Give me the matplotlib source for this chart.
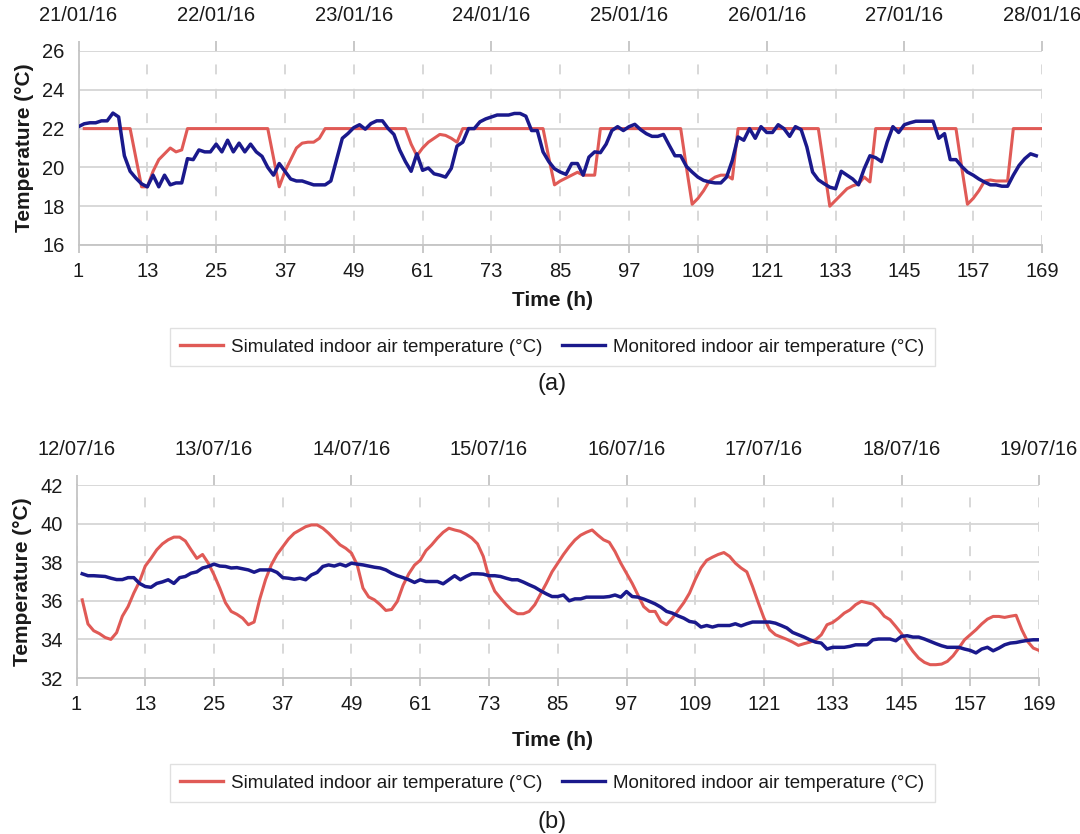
import numpy as np
import matplotlib
matplotlib.use("Agg")
import matplotlib.pyplot as plt
from matplotlib.lines import Line2D

plt.rcParams["font.family"] = ["Liberation Sans", "DejaVu Sans"]

# ---------------------------------------------------------------- data
# (a) winter week, 21/01/16 - 28/01/16
winter_dates = ["21/01/16", "22/01/16", "23/01/16", "24/01/16",
                "25/01/16", "26/01/16", "27/01/16", "28/01/16"]
winter_sim_start = 2
winter_sim = [
    22, 22, 22, 22, 22, 22, 22, 22, 22,
    20.5, 19, 19, 19.8, 20.4, 20.7, 21.0, 20.8, 20.9,
    22, 22, 22, 22, 22, 22, 22, 22, 22, 22, 22, 22, 22, 22, 22,
    20.5, 19, 19.8, 20.4, 21.0, 21.25, 21.3, 21.3, 21.5,
    22, 22, 22, 22, 22, 22, 22, 22, 22, 22, 22, 22, 22, 22, 22,
    21.2, 20.6, 21.0, 21.3, 21.5, 21.7, 21.65, 21.5, 21.3,
    22, 22, 22, 22, 22, 22, 22, 22, 22, 22, 22, 22, 22, 22, 22,
    20.5, 19.1, 19.3, 19.45, 19.6, 19.75, 19.6, 19.6, 19.6,
    22, 22, 22, 22, 22, 22, 22, 22, 22, 22, 22, 22, 22, 22, 22,
    20.0, 18.1, 18.4, 18.8, 19.3, 19.5, 19.6, 19.6, 19.4,
    22, 22, 22, 22, 22, 22, 22, 22, 22, 22, 22, 22, 22, 22, 22,
    20.0, 18.0, 18.3, 18.6, 18.9, 19.05, 19.15, 19.5, 19.25,
    22, 22, 22, 22, 22, 22, 22, 22, 22, 22, 22, 22, 22, 22, 22,
    20.0, 18.1, 18.4, 18.8, 19.3, 19.35, 19.3, 19.3, 19.3,
    22, 22, 22, 22, 22, 22,
]
winter_mon_start = 1
winter_mon = [
    22.1, 22.25, 22.3, 22.3, 22.4, 22.4, 22.8, 22.6, 20.6, 19.8,
    19.45, 19.15, 19.0, 19.6, 19.0, 19.6, 19.1, 19.2, 19.2, 20.45,
    20.4, 20.9, 20.8, 20.8, 21.2, 20.8, 21.4, 20.8, 21.25, 20.8,
    21.2, 20.8, 20.57, 20.0, 19.6, 20.2, 19.8, 19.4, 19.3, 19.3,
    19.2, 19.1, 19.1, 19.1, 19.3, 20.4, 21.5, 21.75, 22.05, 22.2,
    21.97, 22.26, 22.4, 22.4, 22.0, 21.7, 20.9, 20.3, 19.8, 20.7,
    19.85, 19.97, 19.67, 19.6, 19.5, 19.95, 21.1, 21.3, 22.0, 22.0,
    22.35, 22.5, 22.6, 22.7, 22.7, 22.7, 22.78, 22.78, 22.64, 21.9,
    21.9, 20.8, 20.3, 19.93, 19.76, 19.64, 20.2, 20.2, 19.6, 20.53,
    20.8, 20.76, 21.2, 21.9, 22.1, 21.9, 22.1, 22.22, 21.95, 21.74,
    21.6, 21.6, 21.7, 21.14, 20.6, 20.6, 20.05, 19.76, 19.5, 19.33,
    19.25, 19.2, 19.2, 19.5, 20.36, 21.57, 21.4, 22.0, 21.5, 22.1,
    21.8, 21.8, 22.2, 22.0, 21.6, 22.1, 21.95, 21.05, 19.76, 19.36,
    19.16, 18.98, 18.9, 19.8, 19.6, 19.4, 19.1, 19.93, 20.6, 20.5,
    20.3, 21.3, 22.1, 21.8, 22.2, 22.3, 22.38, 22.38, 22.38, 22.38,
    21.5, 21.74, 20.4, 20.4, 20.05, 19.76, 19.6, 19.4, 19.24, 19.1,
    19.1, 19.03, 19.03, 19.6, 20.1, 20.45, 20.7, 20.6,
]

# (b) summer week, 12/07/16 - 19/07/16
summer_dates = ["12/07/16", "13/07/16", "14/07/16", "15/07/16",
                "16/07/16", "17/07/16", "18/07/16", "19/07/16"]
summer_sim_start = 2
summer_sim = [
    36.05, 34.8, 34.45, 34.3, 34.1, 34.0, 34.35, 35.2, 35.7, 36.4,
    37.0, 37.8, 38.2, 38.64, 38.95, 39.16, 39.3, 39.3, 39.1, 38.64,
    38.2, 38.4, 37.95, 37.35, 36.66, 35.9, 35.45, 35.3, 35.1, 34.76,
    34.9, 36.1, 37.1, 37.86, 38.4, 38.8, 39.2, 39.5, 39.67, 39.84,
    39.93, 39.93, 39.76, 39.5, 39.2, 38.9, 38.72, 38.47, 37.86, 36.66,
    36.2, 36.05, 35.8, 35.5, 35.55, 35.97, 36.8, 37.4, 37.85, 38.1,
    38.6, 38.9, 39.25, 39.55, 39.76, 39.67, 39.6, 39.45, 39.25, 38.95,
    38.3, 37.2, 36.5, 36.14, 35.8, 35.5, 35.33, 35.33, 35.45, 35.8,
    36.35, 36.9, 37.5, 37.95, 38.4, 38.8, 39.15, 39.4, 39.55, 39.67,
    39.4, 39.16, 39.03, 38.55, 37.95, 37.43, 36.9, 36.3, 35.7, 35.45,
    35.45, 34.93, 34.76, 35.1, 35.5, 35.9, 36.4, 37.1, 37.7, 38.1,
    38.26, 38.4, 38.5, 38.3, 37.95, 37.7, 37.5, 36.74, 35.9, 35.1,
    34.5, 34.24, 34.12, 34.0, 33.86, 33.69, 33.78, 33.86, 33.98, 34.24,
    34.76, 34.88, 35.1, 35.36, 35.53, 35.8, 35.97, 35.9, 35.83, 35.57,
    35.2, 35.02, 34.67, 34.3, 33.8, 33.38, 33.03, 32.81, 32.69, 32.69,
    32.72, 32.86, 33.15, 33.55, 33.98, 34.24, 34.5, 34.8, 35.05, 35.19,
    35.19, 35.14, 35.2, 35.25, 34.5, 33.9, 33.55, 33.43,
]
summer_mon_start = 2
summer_mon = [
    37.4, 37.3, 37.3, 37.28, 37.26, 37.17, 37.1, 37.1, 37.2, 37.2,
    36.9, 36.74, 36.7, 36.9, 36.98, 37.09, 36.9, 37.2, 37.26, 37.43,
    37.5, 37.7, 37.78, 37.9, 37.8, 37.78, 37.7, 37.72, 37.66, 37.6,
    37.48, 37.6, 37.6, 37.6, 37.47, 37.2, 37.17, 37.12, 37.17, 37.09,
    37.34, 37.47, 37.78, 37.86, 37.8, 37.9, 37.8, 37.95, 37.9, 37.86,
    37.8, 37.74, 37.7, 37.6, 37.43, 37.3, 37.2, 37.09, 36.95, 37.09,
    37.0, 37.0, 37.0, 36.88, 37.09, 37.3, 37.09, 37.26, 37.4, 37.4,
    37.38, 37.3, 37.3, 37.26, 37.17, 37.09, 37.09, 36.97, 36.83, 36.7,
    36.52, 36.36, 36.22, 36.22, 36.3, 36.0, 36.1, 36.1, 36.19, 36.19,
    36.19, 36.19, 36.22, 36.3, 36.19, 36.48, 36.22, 36.19, 36.09, 35.97,
    35.84, 35.67, 35.45, 35.36, 35.22, 35.1, 34.93, 34.88, 34.64, 34.72,
    34.64, 34.72, 34.72, 34.72, 34.81, 34.7, 34.81, 34.9, 34.9, 34.9,
    34.9, 34.84, 34.72, 34.59, 34.36, 34.24, 34.12, 33.98, 33.86, 33.81,
    33.5, 33.59, 33.59, 33.59, 33.64, 33.72, 33.72, 33.72, 33.98, 34.02,
    34.02, 34.02, 33.93, 34.16, 34.19, 34.12, 34.12, 34.02, 33.9, 33.78,
    33.67, 33.59, 33.59, 33.59, 33.5, 33.43, 33.3, 33.5, 33.59, 33.41,
    33.55, 33.72, 33.81, 33.84, 33.9, 33.95, 33.98, 33.98,
]

hour_ticks = list(range(1, 170, 12))
date_ticks = list(range(1, 170, 24))

sim_label = "Simulated indoor air temperature (\u00b0C)"
mon_label = "Monitored indoor air temperature (\u00b0C)"

# ---------------------------------------------------------------- style
RED = "#e05a56"
BLUE = "#1a198c"
GRID = "#d6d6d6"
SPINE = "#c4c4c4"
TXT = "#1a1a1a"

W, H = 1080, 834
fig = plt.figure(figsize=(W / 100, H / 100), dpi=100)


def px_axes(left, top, right, bottom):
    return fig.add_axes([left / W, 1 - bottom / H, (right - left) / W,
                         (bottom - top) / H])


def draw_panel(ax, sim_start, sim, mon_start, mon, ylim, dates):
    xs = np.arange(sim_start, sim_start + len(sim))
    xm = np.arange(mon_start, mon_start + len(mon))
    ax.plot(xs, sim, color=RED, lw=2.2, solid_joinstyle="round", zorder=3)
    ax.plot(xm, mon, color=BLUE, lw=2.5, solid_joinstyle="round", zorder=4)

    ax.set_xlim(1, 169)
    ax.set_ylim(*ylim)
    ax.set_yticks(np.arange(ylim[0], ylim[1] + 1, 2))
    ax.set_xticks(hour_ticks)
    ax.set_axisbelow(True)
    ax.yaxis.grid(True, color=GRID, lw=1.3, ls="-")
    ax.xaxis.grid(True, color=GRID, lw=1.3, ls=(0, (5.5, 8)))
    for s in ("top", "right"):
        ax.spines[s].set_visible(False)
    for s in ("left", "bottom"):
        ax.spines[s].set_color(SPINE)
        ax.spines[s].set_linewidth(1.3)
    ax.tick_params(axis="x", direction="out", length=6, width=1.3,
                   color=SPINE, labelsize=14.5, labelcolor=TXT, pad=6)
    ax.tick_params(axis="y", length=0, labelsize=14.5, labelcolor=TXT,
                   pad=10)
    ax.set_ylabel("Temperature (\u00b0C)", fontsize=15, fontweight="bold",
                  color=TXT, labelpad=6)

    top = ax.secondary_xaxis("top")
    top.set_xticks(date_ticks)
    top.set_xticklabels(dates)
    top.spines["top"].set_visible(False)
    top.tick_params(direction="out", length=7, width=1.3, color=SPINE,
                    labelsize=14.5, labelcolor=TXT, pad=12)


ax1 = px_axes(78.5, 51, 1042, 245)
draw_panel(ax1, winter_sim_start, winter_sim, winter_mon_start, winter_mon,
           (16, 26), winter_dates)
ax2 = px_axes(76.5, 485, 1039, 678)
draw_panel(ax2, summer_sim_start, summer_sim, summer_mon_start, summer_mon,
           (32, 42), summer_dates)

handles = [Line2D([], [], color=RED, lw=2.4),
           Line2D([], [], color=BLUE, lw=2.4)]


def add_legend(cy):
    fig.legend(handles, [sim_label, mon_label], loc="center",
               bbox_to_anchor=(552 / W, 1 - cy / H), ncol=2, fontsize=13.5,
               frameon=True, fancybox=False, edgecolor="#d9d9d9",
               handlelength=2.3, handletextpad=0.45, columnspacing=1.0,
               borderpad=0.55, labelcolor=TXT)


fig.text(552 / W, 1 - 300 / H, "Time (h)", ha="center", va="center",
         fontsize=15, fontweight="bold", color=TXT)
add_legend(347)
fig.text(552 / W, 1 - 384 / H, "(a)", ha="center", va="center",
         fontsize=17, color=TXT)

fig.text(552 / W, 1 - 740 / H, "Time (h)", ha="center", va="center",
         fontsize=15, fontweight="bold", color=TXT)
add_legend(783)
fig.text(552 / W, 1 - 822 / H, "(b)", ha="center", va="center",
         fontsize=17, color=TXT)

fig.savefig("out.png", dpi=100, facecolor="white")
